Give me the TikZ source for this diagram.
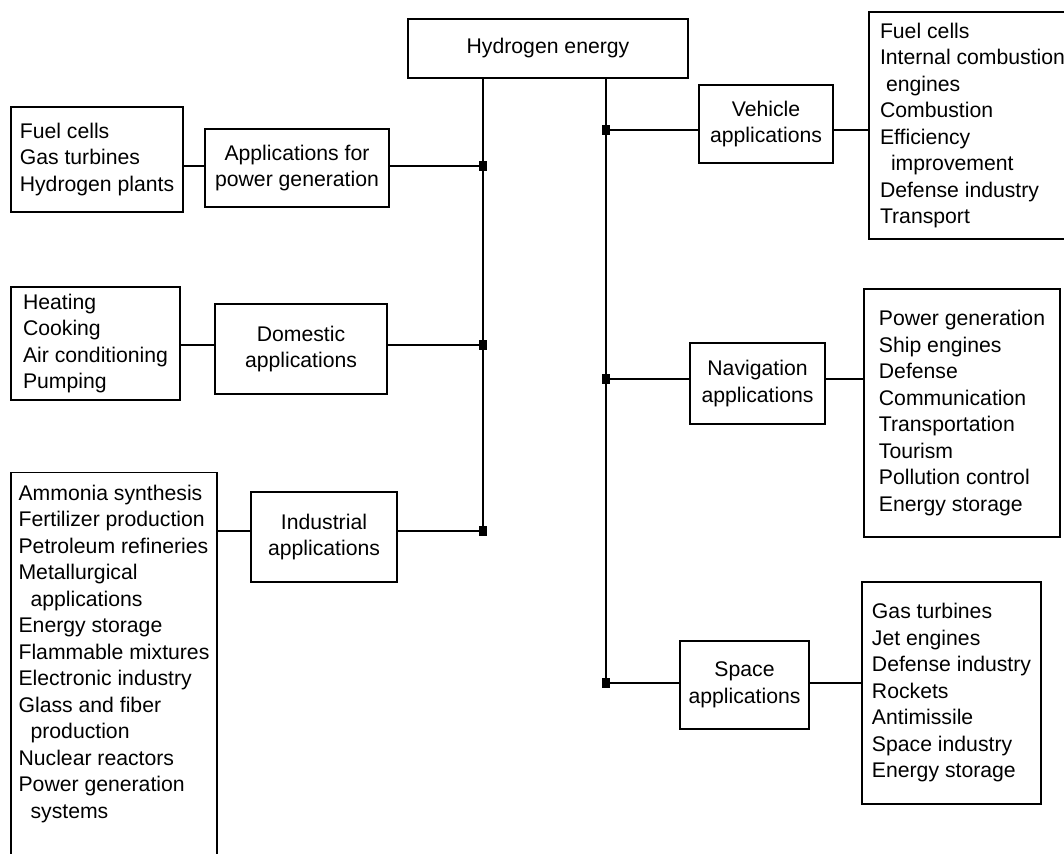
\documentclass[tikz,border=0pt]{standalone}
\usepackage{fontspec}
\setmainfont{Liberation Sans}
\usetikzlibrary{arrows,positioning}

\begin{document}
\begin{tikzpicture}[x=0.5pt,y=-0.5pt,line width=0.7pt,every node/.style={font=\fontsize{10.6}{13.25}\selectfont}]
	\useasboundingbox (0,0) rectangle (1064,854);
	\clip (0,0) rectangle (1064,854);
	\tikzset{box/.style={draw,inner sep=0pt,align=center}}
	\tikzset{list/.style={draw,inner sep=0pt,align=left}}
	\tikzset{dot/.style={fill=black,inner sep=0pt,minimum width=4pt,minimum height=5pt}}

	% top
	\node[box,minimum width=140pt,minimum height=29.5pt] (H) at (548,48.5) {Hydrogen energy};

	% left branches
	\node[box,minimum width=92pt,minimum height=39pt]   (pow)  at (297,168)   {Applications for\\power generation};
	\node[list,minimum width=86pt,minimum height=52.5pt] (powl) at (97,159.5)  {Fuel cells\\Gas turbines\\Hydrogen plants};
	\node[box,minimum width=86pt,minimum height=45pt]   (dom)  at (301,349)   {Domestic\\applications};
	\node[list,minimum width=84.5pt,minimum height=56.5pt] (doml) at (95.5,343.5) {Heating\\Cooking\\Air conditioning\\Pumping};
	\node[box,minimum width=73pt,minimum height=45pt]   (ind)  at (324,537)   {Industrial\\applications};
	\node[list,minimum width=103pt,inner ysep=6pt,text depth=200pt,anchor=north] (indl) at (114,472)
		{Ammonia synthesis\\Fertilizer production\\Petroleum refineries\\Metallurgical\\\hspace{6pt}applications\\Energy storage\\Flammable mixtures\\Electronic industry\\Glass and fiber\\\hspace{6pt}production\\Nuclear reactors\\Power generation\\\hspace{6pt}systems};

	% right branches
	\node[box,minimum width=67pt,minimum height=39pt]   (veh)  at (766,124)   {Vehicle\\applications};
	\node[list,minimum width=103.5pt,minimum height=113.5pt] (vehl) at (972.5,125.5)
		{Fuel cells\\Internal combustion\\\hspace{3pt}engines\\Combustion\\Efficiency\\\hspace{5.5pt}improvement\\Defense industry\\Transport};
	\node[box,minimum width=67.5pt,minimum height=40.5pt] (nav) at (757.5,383.5) {Navigation\\applications};
	\node[list,minimum width=98pt,minimum height=124pt] (navl) at (962,413)
		{Power generation\\Ship engines\\Defense\\Communication\\Transportation\\Tourism\\Pollution control\\Energy storage};
	\node[box,minimum width=64.5pt,minimum height=44pt] (spa)  at (744.5,685) {Space\\applications};
	\node[list,minimum width=89.5pt,minimum height=111pt] (spal) at (951.5,693)
		{Gas turbines\\Jet engines\\Defense industry\\Rockets\\Antimissile\\Space industry\\Energy storage};

	% junctions
	\node[dot] (jp) at (483,166) {};
	\node[dot] (jd) at (483,345) {};
	\node[dot] (ji) at (483,531) {};
	\node[dot] (jv) at (606,130) {};
	\node[dot] (jn) at (606,379) {};
	\node[dot] (js) at (606,683) {};

	\path (H.south -| ji)   edge (ji.center)
		  (H.south -| js)   edge (js.center)
		  (pow.east |- jp)  edge (jp.center)
		  (pow.west |- jp)  edge (powl.east |- jp)
		  (dom.east |- jd)  edge (jd.center)
		  (dom.west |- jd)  edge (doml.east |- jd)
		  (ind.east |- ji)  edge (ji.center)
		  (ind.west |- ji)  edge (indl.east |- ji)
		  (veh.west |- jv)  edge (jv.center)
		  (veh.east |- jv)  edge (vehl.west |- jv)
		  (nav.west |- jn)  edge (jn.center)
		  (nav.east |- jn)  edge (navl.west |- jn)
		  (spa.west |- js)  edge (js.center)
		  (spa.east |- js)  edge (spal.west |- js);
\end{tikzpicture}
\end{document}
